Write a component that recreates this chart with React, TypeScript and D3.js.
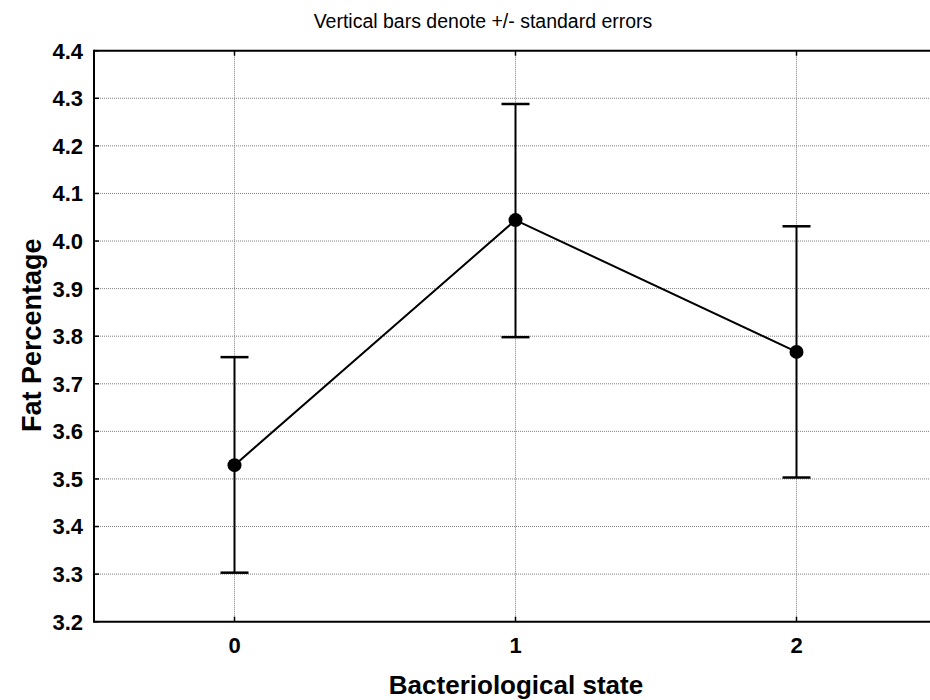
import React from "react";
import * as d3 from "d3";

const categories = ["0", "1", "2"];
const means = [3.529, 4.044, 3.767];
const upper = [3.756, 4.288, 4.031];
const lower = [3.303, 3.798, 3.503];
const yTicks = [3.2, 3.3, 3.4, 3.5, 3.6, 3.7, 3.8, 3.9, 4.0, 4.1, 4.2, 4.3, 4.4];

const W = 930;
const H = 700;
const left = 94;
const top = 50.7;
const bottom = 621.7;
const right = 937;

export default function App() {
  const x = d3.scaleLinear().domain([-0.5, 2.5]).range([left, right]);
  const y = d3.scaleLinear().domain([3.2, 4.4]).range([bottom, top]);
  const line = d3
    .line<number>()
    .x((_, i) => x(i))
    .y((d) => y(d));
  const font = "Arial, 'Liberation Sans', Helvetica, sans-serif";
  return (
    <svg
      width={W}
      height={H}
      style={{ position: "absolute", left: 0, top: 0, background: "#fff" }}
      fontFamily={font}
    >
      <rect x={0} y={0} width={W} height={H} fill="#fff" />
      {/* grid */}
      {yTicks.slice(1, -1).map((t) => (
        <line
          key={"gy" + t}
          x1={left}
          x2={right}
          y1={y(t)}
          y2={y(t)}
          stroke="#808080"
          strokeWidth={1}
          strokeDasharray="1,1"
        />
      ))}
      {categories.map((c, i) => (
        <line
          key={"gx" + c}
          x1={x(i)}
          x2={x(i)}
          y1={top}
          y2={bottom}
          stroke="#808080"
          strokeWidth={1}
          strokeDasharray="1,1"
        />
      ))}
      {/* axes */}
      <line x1={left} x2={right} y1={top} y2={top} stroke="#000" strokeWidth={2} />
      <line x1={left} x2={right} y1={bottom} y2={bottom} stroke="#000" strokeWidth={2} />
      <line x1={left} x2={left} y1={top - 1} y2={bottom + 1} stroke="#000" strokeWidth={2} />
      {yTicks.map((t) => (
        <g key={"yt" + t}>
          <line x1={left} x2={left + 5} y1={y(t)} y2={y(t)} stroke="#000" strokeWidth={1.5} />
          <text
            x={83}
            y={y(t)}
            dy="0.36em"
            textAnchor="end"
            fontSize={22}
            fontWeight="bold"
          >
            {d3.format(".1f")(t)}
          </text>
        </g>
      ))}
      {categories.map((c, i) => (
        <g key={"xt" + c}>
          <line x1={x(i)} x2={x(i)} y1={top} y2={top + 5} stroke="#000" strokeWidth={1.5} />
          <line x1={x(i)} x2={x(i)} y1={bottom} y2={bottom - 5} stroke="#000" strokeWidth={1.5} />
          <text x={x(i)} y={653} textAnchor="middle" fontSize={22} fontWeight="bold">
            {c}
          </text>
        </g>
      ))}
      {/* error bars */}
      {categories.map((c, i) => (
        <g key={"eb" + c}>
          <line x1={x(i)} x2={x(i)} y1={y(upper[i])} y2={y(lower[i])} stroke="#000" strokeWidth={2} />
          <line x1={x(i) - 14} x2={x(i) + 14} y1={y(upper[i])} y2={y(upper[i])} stroke="#000" strokeWidth={2.5} />
          <line x1={x(i) - 14} x2={x(i) + 14} y1={y(lower[i])} y2={y(lower[i])} stroke="#000" strokeWidth={2.5} />
        </g>
      ))}
      <path d={line(means) || ""} fill="none" stroke="#000" strokeWidth={2} />
      {means.map((m, i) => (
        <circle key={"pt" + i} cx={x(i)} cy={y(m)} r={7} fill="#000" />
      ))}
      {/* titles */}
      <text x={483} y={28} textAnchor="middle" fontSize={19.5}>
        Vertical bars denote +/- standard errors
      </text>
      <text x={516} y={694} textAnchor="middle" fontSize={26} fontWeight="bold">
        Bacteriological state
      </text>
      <text
        transform={`translate(41, ${(top + bottom) / 2 - 1}) rotate(-90)`}
        textAnchor="middle"
        fontSize={27}
        fontWeight="bold"
      >
        Fat Percentage
      </text>
    </svg>
  );
}
